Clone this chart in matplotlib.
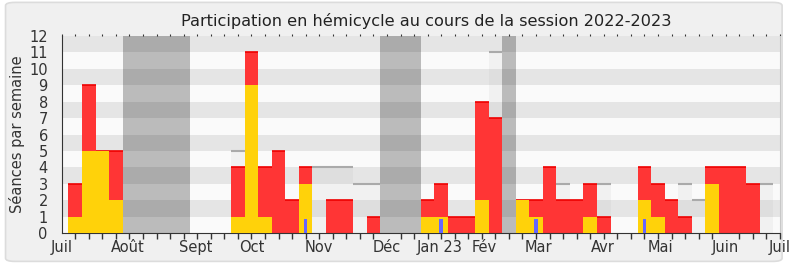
import matplotlib.pyplot as plt
from matplotlib.patches import FancyBboxPatch
import numpy as np

# one entry per week of the session (week 0 = start of July 2022)
weeks = list(range(53))
presence = [0, 3, 9, 5, 5, 0, 0, 0, 0, 0, 0, 0, 0, 4, 11, 4, 5, 2, 4, 0,
            2, 2, 0, 1, 0, 0, 0, 2, 3, 1, 1, 8, 7, 0, 2, 2, 4, 2, 2, 3,
            1, 0, 0, 4, 3, 2, 1, 0, 4, 4, 4, 3, 0]
interventions = [0, 1, 5, 5, 2, 0, 0, 0, 0, 0, 0, 0, 0, 1, 9, 1, 0, 0, 3, 0,
                 0, 0, 0, 0, 0, 0, 0, 1, 1, 0, 0, 2, 0, 0, 2, 1, 0, 0, 0, 1,
                 0, 0, 0, 2, 1, 0, 0, 0, 3, 0, 0, 0, 0]
questions = [0, 0, 0, 0, 0, 0, 0, 0, 0, 0, 0, 0, 0, 0, 0, 0, 0, 0, 0.85, 0,
             0, 0, 0, 0, 0, 0, 0, 0, 0.85, 0, 0, 0, 0, 0, 0, 0.85, 0, 0, 0, 0,
             0, 0, 0, 0.85, 0, 0, 0, 0, 0, 0, 0, 0, 0]
# weeks where the number of sittings is higher than the presence
seances = [0, 0, 0, 0, 0, 0, 0, 0, 0, 0, 0, 0, 0, 5, 0, 0, 0, 0, 0, 4,
           4, 4, 3, 3, 0, 0, 0, 0, 0, 0, 0, 0, 11, 0, 0, 0, 0, 3, 0, 0,
           3, 0, 0, 0, 0, 0, 3, 2, 0, 0, 0, 0, 3]

vacances = [(4.5, 9.5), (23.5, 26.5), (32.5, 33.5)]

month_pos = [0, 4.9, 9.9, 14.05, 18.95, 24.0, 27.9, 31.2, 35.15, 39.9, 44.15, 49.0, 52.95]
month_labels = ['Juil', 'Août', 'Sept', 'Oct', 'Nov', 'Déc', 'Jan 23', 'Fév',
                'Mar', 'Avr', 'Mai', 'Juin', 'Juil']


def main():
    fig = plt.figure(figsize=(7.9, 2.67), dpi=100)
    fig.patch.set_facecolor('white')
    box = FancyBboxPatch((0.007, 0.021), 0.983, 0.97,
                         boxstyle='round,pad=0,rounding_size=0.012',
                         transform=fig.transFigure, facecolor='#f0f0f0',
                         edgecolor='#dcdcdc', linewidth=1.2, zorder=-10)
    fig.patches.append(box)

    ax = fig.add_axes([0.0781, 0.1273, 0.9092, 0.7377])
    ax.set_facecolor('#fafafa')
    ax.set_xlim(0, 53)
    ax.set_ylim(0, 12)

    # horizontal stripes
    for y in range(1, 12, 2):
        ax.axhspan(y, y + 1, color='#e5e5e5', lw=0, zorder=0)

    x = np.array(weeks)
    s = np.array(seances)
    m = s > 0
    ax.bar(x[m], s[m], width=1, color='#b0b0b0', alpha=0.12, lw=0, zorder=1)
    ax.hlines(s[m], x[m] - 0.5, x[m] + 0.5, color='#aaaaaa', lw=1.5, zorder=1.5)

    p = np.array(presence)
    m = p > 0
    ax.bar(x[m], p[m], width=1, color='#ff3535', lw=0, zorder=2)
    ax.hlines(p[m], x[m] - 0.5, x[m] + 0.5, color='#ee0000', lw=1.2, zorder=2.5)

    iv = np.array(interventions)
    m = iv > 0
    ax.bar(x[m], iv[m], width=1, color='#ffd20a', lw=0, zorder=3)

    q = np.array(questions)
    m = q > 0
    ax.bar(x[m], q[m], width=0.27, color='#6666ff', lw=0, zorder=4)

    for a, b in vacances:
        ax.axvspan(a, b, color='black', alpha=0.25, lw=0, zorder=5)

    ax.set_xticks(month_pos)
    ax.set_xticklabels(month_labels)
    ax.set_xticks(range(0, 54), minor=True)
    ax.tick_params(axis='x', which='major', length=0, pad=5, labelsize=10.5,
                   labelcolor='#333333')
    ax.tick_params(axis='x', which='minor', length=4, width=1, color='#333333')
    ax.set_yticks(range(0, 13))
    ax.tick_params(axis='y', length=0, pad=10, labelsize=10.5, labelcolor='#333333')

    top = ax.secondary_xaxis('top')
    top.set_xticks([])
    top.set_xticks(range(0, 54), minor=True)
    top.tick_params(which='minor', length=1.5, width=0.8, color='#333333')
    top.spines['top'].set_visible(False)

    for sp in ['left', 'bottom']:
        ax.spines[sp].set_color('#333333')
    ax.spines['top'].set_visible(False)
    ax.spines['right'].set_color('#c8c8c8')

    ax.set_ylabel('Séances par semaine', fontsize=10.5, color='#333333', labelpad=3)
    ax.set_title('Participation en hémicycle au cours de la session 2022-2023',
                 fontsize=11.6, color='#222222', pad=7, x=0.508)

    fig.savefig('out.png', dpi=100, facecolor=fig.get_facecolor())


if __name__ == '__main__':
    main()
